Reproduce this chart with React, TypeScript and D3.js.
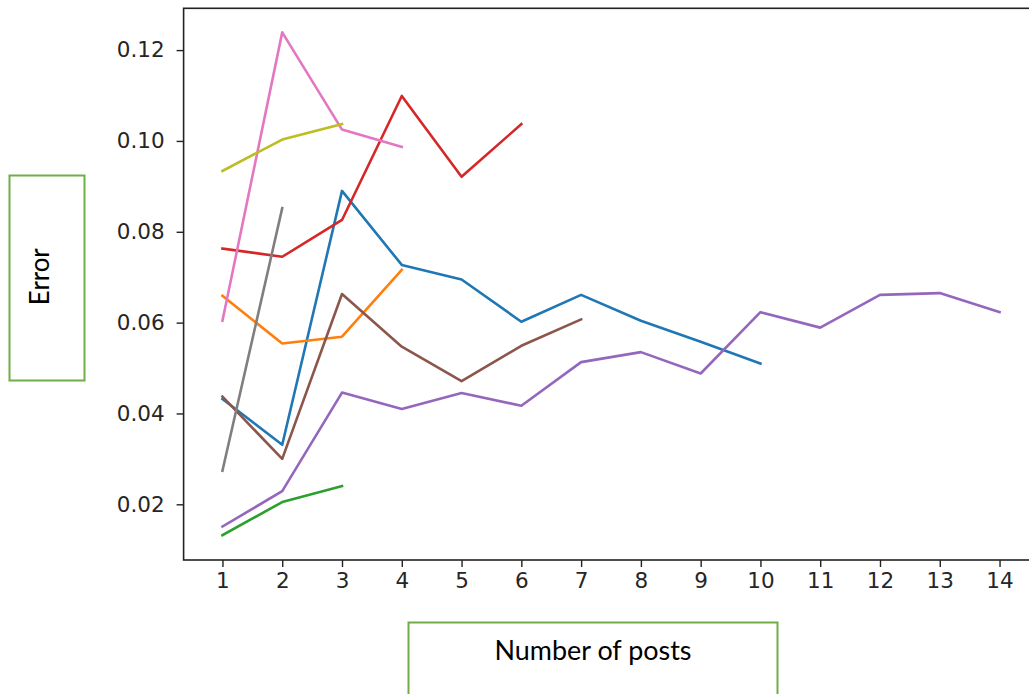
import React, { useEffect, useRef } from "react";
import * as d3 from "d3";

// Number of posts on the x axis
const posts = [1, 2, 3, 4, 5, 6, 7, 8, 9, 10, 11, 12, 13, 14];
const xTicks = posts;
const yTicks = [0.02, 0.04, 0.06, 0.08, 0.1, 0.12];

// Error per user series (each starts at 1 post)
const seriesBlue = [0.0432, 0.0331, 0.089, 0.0727, 0.0695, 0.0602, 0.0661, 0.0604, 0.0558, 0.051];
const seriesOrange = [0.0659, 0.0554, 0.0569, 0.0716];
const seriesGreen = [0.0132, 0.0205, 0.024];
const seriesRed = [0.0763, 0.0745, 0.0826, 0.1099, 0.0921, 0.1037];
const seriesPurple = [0.0151, 0.0229, 0.0446, 0.041, 0.0445, 0.0417, 0.0513, 0.0535, 0.0488, 0.0623, 0.0589, 0.0661, 0.0665, 0.0623];
const seriesBrown = [0.0437, 0.03, 0.0663, 0.0547, 0.0471, 0.0549, 0.0607];
const seriesPink = [0.0604, 0.1239, 0.1025, 0.0987];
const seriesGray = [0.0274, 0.0852];
const seriesOlive = [0.0934, 0.1003, 0.1037];

const allSeries = [
  seriesBlue,
  seriesOrange,
  seriesGreen,
  seriesRed,
  seriesPurple,
  seriesBrown,
  seriesPink,
  seriesGray,
  seriesOlive,
];
const palette = ["#1f77b4", "#ff7f0e", "#2ca02c", "#d62728", "#9467bd", "#8c564b", "#e377c2", "#7f7f7f", "#bcbd22"];

const W = 1029;
const H = 694;

export default function App() {
  const ref = useRef<SVGSVGElement | null>(null);

  useEffect(() => {
    const svg = d3.select(ref.current);
    svg.selectAll("*").remove();

    const left = 183.6;
    const right = 1038.4;
    const top = 8.3;
    const bottom = 560;

    const x = d3.scaleLinear().domain([0.35, 14.65]).range([left, right]);
    const y = d3.scaleLinear().domain([0.00774, 0.1292]).range([bottom, top]);

    svg.append("rect").attr("width", W).attr("height", H).attr("fill", "#ffffff");

    const plot = svg.append("g");
    const line = d3
      .line<number>()
      .x((_, i) => x(posts[i]))
      .y((d) => y(d));

    allSeries.forEach((s, i) => {
      plot
        .append("path")
        .attr("d", line(s) as string)
        .attr("fill", "none")
        .attr("stroke", palette[i])
        .attr("stroke-width", 2.6)
        .attr("stroke-linejoin", "round")
        .attr("stroke-linecap", "square");
    });

    const font = "'DejaVu Sans', sans-serif";

    // x axis
    const xAxis = svg.append("g").attr("transform", `translate(0,${bottom})`);
    xAxis
      .call(d3.axisBottom(x).tickValues(xTicks).tickFormat(d3.format("d")).tickSize(7).tickPadding(6))
      .call((g) => g.select(".domain").remove());
    xAxis.selectAll("line").attr("stroke", "#222").attr("stroke-width", 1.4);
    xAxis.selectAll("text").attr("font-family", font).attr("font-size", 21.5).attr("fill", "#262626");

    // y axis
    const yAxis = svg.append("g").attr("transform", `translate(${left},0)`);
    yAxis
      .call(d3.axisLeft(y).tickValues(yTicks).tickFormat(d3.format(".2f")).tickSize(7).tickPadding(12))
      .call((g) => g.select(".domain").remove());
    yAxis.selectAll("line").attr("stroke", "#222").attr("stroke-width", 1.4);
    yAxis.selectAll("text").attr("font-family", font).attr("font-size", 21.5).attr("fill", "#262626");

    // frame
    svg
      .append("rect")
      .attr("x", left)
      .attr("y", top)
      .attr("width", right - left)
      .attr("height", bottom - top)
      .attr("fill", "none")
      .attr("stroke", "#222")
      .attr("stroke-width", 1.6);

    // axis title boxes
    const boxColor = "#70ad47";
    const labelFont = "Lato, 'Open Sans', sans-serif";

    svg
      .append("rect")
      .attr("x", 9.5)
      .attr("y", 175.5)
      .attr("width", 75)
      .attr("height", 205)
      .attr("fill", "#fff")
      .attr("stroke", boxColor)
      .attr("stroke-width", 2);
    svg
      .append("text")
      .attr("transform", "translate(49,276.7) rotate(-90)")
      .attr("text-anchor", "middle")
      .attr("font-family", labelFont)
      .attr("font-size", 26)
      .attr("fill", "#000")
      .attr("textLength", 57)
      .attr("lengthAdjust", "spacingAndGlyphs")
      .text("Error");

    svg
      .append("rect")
      .attr("x", 408.5)
      .attr("y", 622.5)
      .attr("width", 369)
      .attr("height", 120)
      .attr("fill", "#fff")
      .attr("stroke", boxColor)
      .attr("stroke-width", 2);
    svg
      .append("text")
      .attr("x", 593)
      .attr("y", 660)
      .attr("text-anchor", "middle")
      .attr("font-family", labelFont)
      .attr("font-size", 26)
      .attr("fill", "#000")
      .attr("textLength", 197)
      .attr("lengthAdjust", "spacingAndGlyphs")
      .text("Number of posts");
  }, []);

  return (
    <svg
      ref={ref}
      width={W}
      height={H}
      style={{ position: "absolute", left: 0, top: 0, display: "block" }}
    />
  );
}
